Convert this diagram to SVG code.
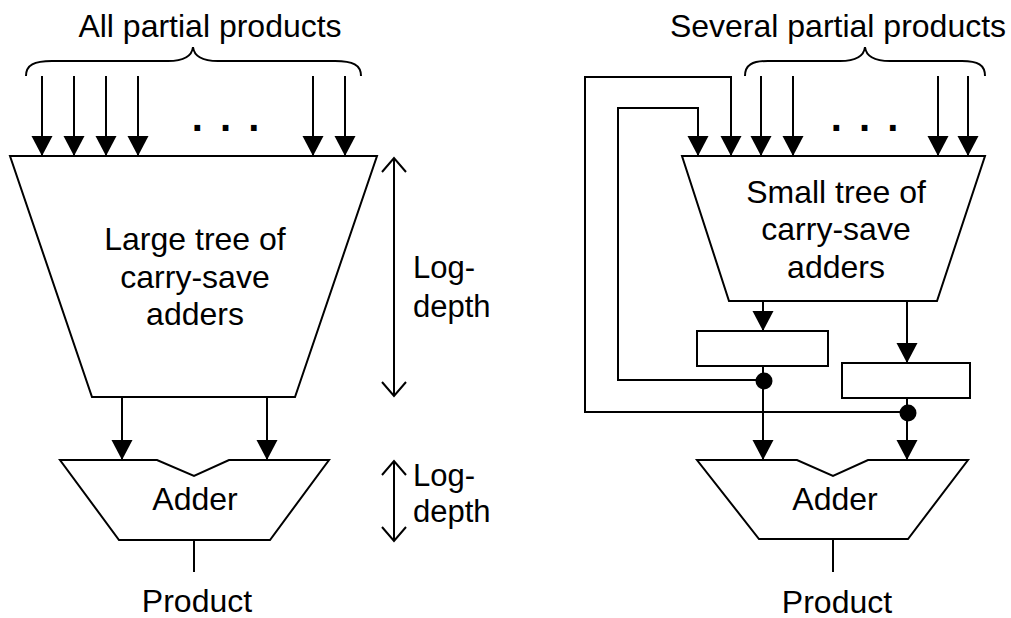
<svg xmlns="http://www.w3.org/2000/svg" width="1011" height="618" viewBox="0 0 1011 618">
  <style>
    .shape { fill: #fff; stroke: #000; stroke-width: 2; stroke-linejoin: miter; }
    .wire { fill: none; stroke: #000; stroke-width: 2; }
    .lbl { font-family: "Liberation Sans", Arial, sans-serif; font-size: 32px; fill: #000; text-anchor: middle; }
    .side { font-family: "Liberation Sans", Arial, sans-serif; font-size: 31px; fill: #000; }
    .dots { font-family: "Liberation Sans", Arial, sans-serif; font-size: 40px; font-weight: bold; letter-spacing: 3px; fill: #000; text-anchor: middle; }
  </style>
  <defs>
    <marker id="ah" markerUnits="userSpaceOnUse" markerWidth="22" markerHeight="22" refX="20" refY="11" orient="auto">
      <path d="M0,0.5 L20,11 L0,21.5 z" fill="#000"/>
    </marker>
    <marker id="oh" markerUnits="userSpaceOnUse" markerWidth="18" markerHeight="28" refX="15" refY="13" orient="auto-start-reverse">
      <path d="M1,1 L15,13 L1,25" fill="none" stroke="#000" stroke-width="2"/>
    </marker>
  </defs>

  <!-- left: full tree multiplier -->
  <g id="left-inputs">
    <text class="lbl" x="210" y="37">All partial products</text>
    <path class="wire" d="M26,76 C26,65 34,61 52,61 L168,61 C183,61 192,56 193,47 C194,56 203,61 218,61 L335,61 C353,61 361,65 361,76"/>
    <text class="dots" x="227" y="131">. . .</text>
  </g>

  <g id="large-tree">
    <polygon class="shape" points="10,156 377,156 295,397 92,397"/>
    <text class="lbl" x="195" y="250">Large tree of</text>
    <text class="lbl" x="195" y="288">carry-save</text>
    <text class="lbl" x="195" y="325">adders</text>
  </g>

  <g id="left-adder">
    <polygon class="shape" points="60,460 157,460 194,476 229,460 329,460 270,540 119,540"/>
    <text class="lbl" x="195" y="510">Adder</text>
  </g>

  <g id="left-product">
    <text class="lbl" x="197" y="612">Product</text>
  </g>

  <g id="left-depth">
    <line class="wire" x1="394" y1="158" x2="394" y2="396" marker-start="url(#oh)" marker-end="url(#oh)"/>
    <text class="side" x="413" y="278">Log-</text>
    <text class="side" x="413" y="317">depth</text>
    <line class="wire" x1="394" y1="461" x2="394" y2="541" marker-start="url(#oh)" marker-end="url(#oh)"/>
    <text class="side" x="413" y="486">Log-</text>
    <text class="side" x="413" y="522">depth</text>
  </g>

  <!-- right: iterative multiplier with feedback -->
  <g id="right-inputs">
    <text class="lbl" x="838" y="37">Several partial products</text>
    <path class="wire" d="M745,76 C745,65 752,61 768,61 L840,61 C855,61 864,56 865,47 C866,56 875,61 890,61 L962,61 C978,61 985,65 985,76"/>
    <text class="dots" x="866" y="131">. . .</text>
  </g>

  <g id="small-tree">
    <polygon class="shape" points="682,156 985,156 937,301 729,301"/>
    <text class="lbl" x="836" y="203">Small tree of</text>
    <text class="lbl" x="836" y="240">carry-save</text>
    <text class="lbl" x="836" y="278">adders</text>
  </g>

  <g id="register-1">
    <rect class="shape" x="697" y="331" width="131" height="35"/>
  </g>

  <g id="register-2">
    <rect class="shape" x="842" y="363" width="128" height="35"/>
  </g>

  <g id="right-adder">
    <polygon class="shape" points="697,460 797,460 833,476 868,460 968,460 908,539 759,539"/>
    <text class="lbl" x="835" y="510">Adder</text>
  </g>

  <g id="right-product">
    <text class="lbl" x="837" y="613">Product</text>
  </g>

  <g id="connectors">
    <!-- partial product inputs, left tree -->
    <line class="wire" x1="42" y1="76" x2="42" y2="156" marker-end="url(#ah)"/>
    <line class="wire" x1="74" y1="76" x2="74" y2="156" marker-end="url(#ah)"/>
    <line class="wire" x1="106" y1="76" x2="106" y2="156" marker-end="url(#ah)"/>
    <line class="wire" x1="138" y1="76" x2="138" y2="156" marker-end="url(#ah)"/>
    <line class="wire" x1="313" y1="76" x2="313" y2="156" marker-end="url(#ah)"/>
    <line class="wire" x1="345" y1="76" x2="345" y2="156" marker-end="url(#ah)"/>
    <!-- tree to adder, left -->
    <line class="wire" x1="122" y1="397" x2="122" y2="460" marker-end="url(#ah)"/>
    <line class="wire" x1="267" y1="397" x2="267" y2="460" marker-end="url(#ah)"/>
    <line class="wire" x1="194" y1="540" x2="194" y2="572"/>

    <!-- partial product inputs, right tree -->
    <line class="wire" x1="761" y1="76" x2="761" y2="156" marker-end="url(#ah)"/>
    <line class="wire" x1="793" y1="76" x2="793" y2="156" marker-end="url(#ah)"/>
    <line class="wire" x1="938" y1="76" x2="938" y2="156" marker-end="url(#ah)"/>
    <line class="wire" x1="968" y1="76" x2="968" y2="156" marker-end="url(#ah)"/>
    <!-- feedback loops -->
    <path class="wire" d="M763,380 H618 V108 H698 V156" marker-end="url(#ah)"/>
    <path class="wire" d="M907,412 H585 V77 H731 V156" marker-end="url(#ah)"/>
    <!-- tree to registers -->
    <line class="wire" x1="763" y1="301" x2="763" y2="331" marker-end="url(#ah)"/>
    <line class="wire" x1="907" y1="301" x2="907" y2="363" marker-end="url(#ah)"/>
    <!-- registers to adder -->
    <line class="wire" x1="763" y1="366" x2="763" y2="460" marker-end="url(#ah)"/>
    <line class="wire" x1="907" y1="398" x2="907" y2="460" marker-end="url(#ah)"/>
    <circle cx="764" cy="381" r="8.5" fill="#000"/>
    <circle cx="908" cy="413" r="8.5" fill="#000"/>
    <line class="wire" x1="833" y1="539" x2="833" y2="572"/>
  </g>
</svg>
